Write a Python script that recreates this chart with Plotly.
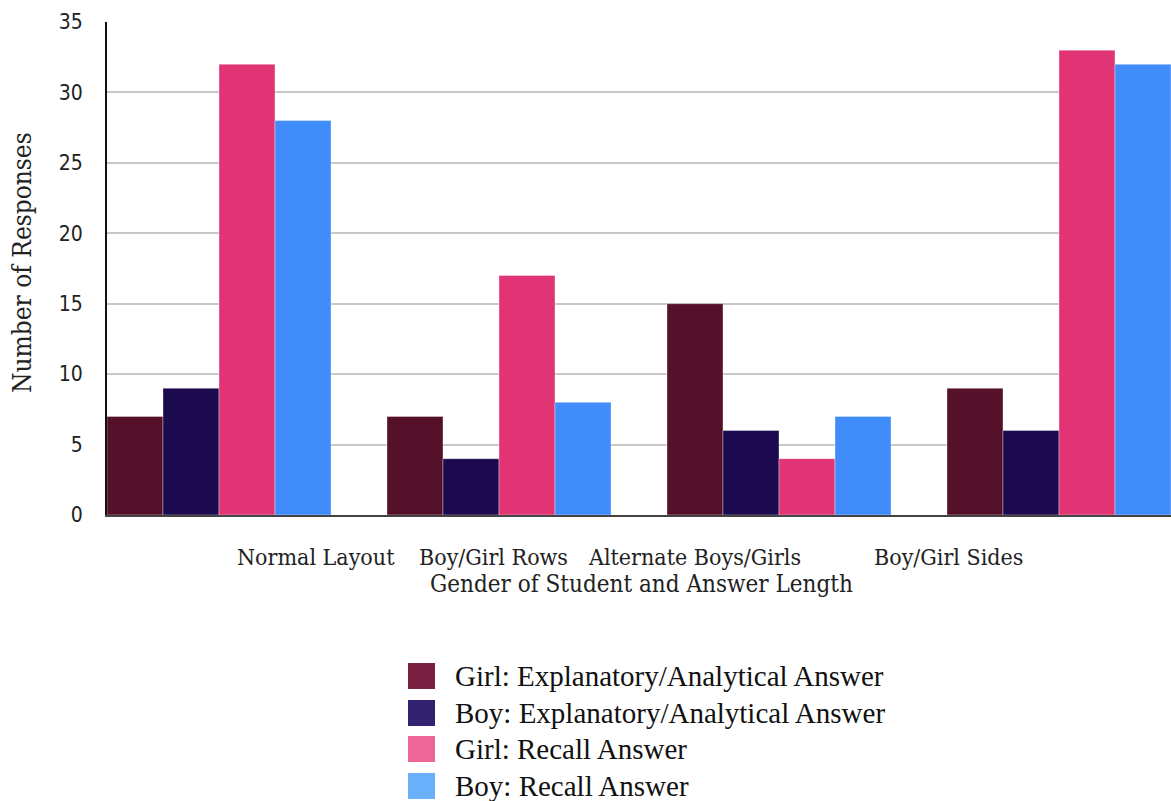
import plotly.graph_objects as go

categories = ["Normal Layout", "Boy/Girl Rows", "Alternate Boys/Girls", "Boy/Girl Sides"]
series_names = [
    "Girl: Explanatory/Analytical Answer",
    "Boy: Explanatory/Analytical Answer",
    "Girl: Recall Answer",
    "Boy: Recall Answer",
]
girl_explanatory = [7, 7, 15, 9]
boy_explanatory = [9, 4, 6, 6]
girl_recall = [32, 17, 4, 33]
boy_recall = [28, 8, 7, 32]
y_ticks = [0, 5, 10, 15, 20, 25, 30, 35]

bar_colors = ["#541129", "#1b0a4d", "#e03475", "#3f8cfa"]
legend_colors = ["#7a2141", "#31216f", "#ee6598", "#6aaffa"]

W, H = 1171, 801
L, T, B = 107, 22, 515  # plot area in pixels


def px(xp):
    return (xp - L) / (W - L)


def py(yp):
    return (B - yp) / (B - T)


fig = go.Figure()
for name, vals, col in zip(series_names,
                           [girl_explanatory, boy_explanatory, girl_recall, boy_recall],
                           bar_colors):
    fig.add_trace(go.Bar(
        x=categories, y=vals, name=name, showlegend=False,
        marker=dict(color=col, line=dict(color="rgba(255,255,255,0.35)", width=1)),
    ))

serif = "DejaVu Serif Condensed, DejaVu Serif, serif"

annotations = []
# category labels (drawn where the original places them)
label_x = [316, 493, 694, 948]
for cat, xc in zip(categories, label_x):
    annotations.append(dict(text=cat, xref="paper", yref="paper", x=px(xc), y=py(557),
                            xanchor="center", yanchor="middle", showarrow=False,
                            borderpad=0,
                            font=dict(family=serif, size=23, color="#222")))
annotations.append(dict(text="Gender of Student and Answer Length", xref="paper", yref="paper",
                        x=px(641), y=py(584), xanchor="center", yanchor="middle",
                        showarrow=False, borderpad=0,
                        font=dict(family=serif, size=24, color="#222")))
annotations.append(dict(text="Number of Responses", xref="paper", yref="paper",
                        x=px(22), y=py(263), xanchor="center", yanchor="middle",
                        textangle=-90, showarrow=False,
                        font=dict(family=serif, size=26, color="#222")))

shapes = []
leg_y = [676, 713, 749, 786]
for name, col, yc in zip(series_names, legend_colors, leg_y):
    shapes.append(dict(type="rect", xref="paper", yref="paper",
                       x0=px(408), x1=px(435), y0=py(yc - 13), y1=py(yc + 13),
                       fillcolor=col, line=dict(width=0)))
    annotations.append(dict(text=name, xref="paper", yref="paper", x=px(453), y=py(yc),
                            xanchor="left", yanchor="middle", showarrow=False,
                            font=dict(family="Liberation Serif, Times New Roman, serif",
                                      size=29, color="#111")))

fig.update_layout(
    width=W, height=H,
    margin=dict(l=L, r=0, t=T, b=H - B, pad=0),
    paper_bgcolor="white", plot_bgcolor="white",
    barmode="group", bargap=0.2, bargroupgap=0,
    annotations=annotations, shapes=shapes,
    xaxis=dict(range=[-0.4, 3.4], showticklabels=False, showgrid=False,
               showline=True, linecolor="#444", linewidth=2, ticks="", zeroline=False),
    yaxis=dict(range=[0, 35], tickvals=y_ticks, showgrid=True, gridcolor="#c8c8c8",
               gridwidth=2, showline=True, linecolor="#111", linewidth=2, ticks="",
               zeroline=False, ticklabelstandoff=18,
               tickfont=dict(family="DejaVu Sans Condensed, DejaVu Sans, sans-serif",
                             size=21, color="#222")),
)

fig.write_html("out.html", config={"displayModeBar": False},
               post_script="document.body.style.margin='0';document.body.style.overflow='hidden';")
